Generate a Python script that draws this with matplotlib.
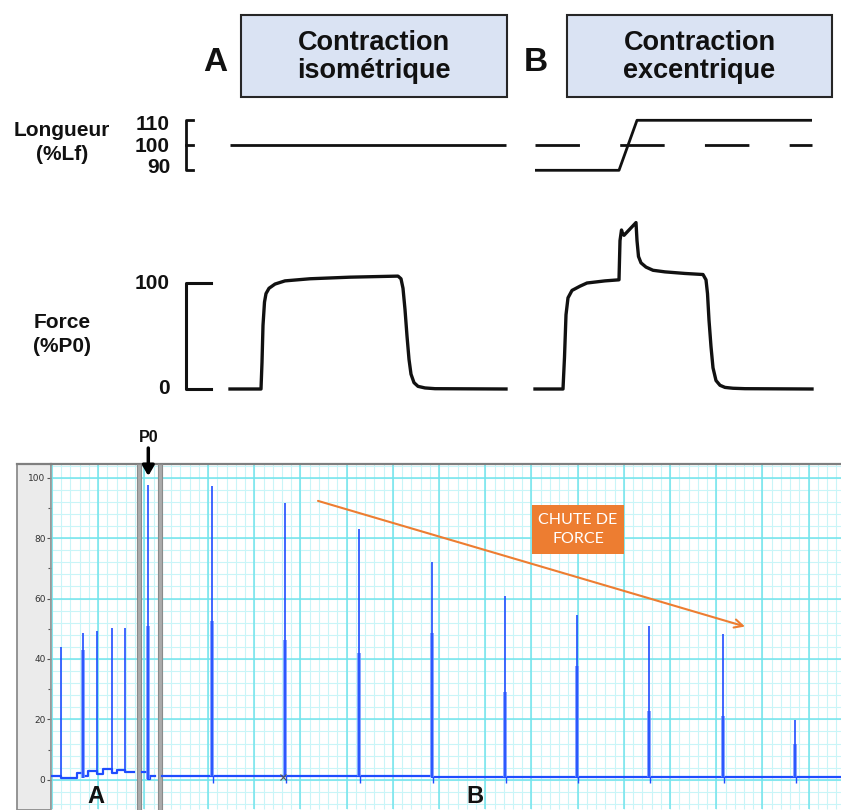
import matplotlib
matplotlib.use('Agg')
import matplotlib.pyplot as plt
from matplotlib.patches import Rectangle
import numpy as np

W, H = 841, 810

def fx(px):
    return px / W

def fy(py):
    return 1 - py / H

# ---------------- data: schematic (top) ----------------
# Panel A : isometric contraction
len_A_t = [0, 276]
len_A_L = [100, 100]
force_A_t = [0, 31, 32, 33, 34.5, 36, 39, 45, 55, 80, 120, 168, 171, 173, 175,
             177, 179, 181, 184, 188, 195, 205, 276]
force_A_F = [0, 0, 25, 60, 82, 90, 95, 99, 102, 104, 105.5, 106.5, 104, 95, 75,
             50, 28, 14, 6, 2.5, 1, 0.3, 0]
# Panel B : eccentric contraction
len_B_t = [0, 84, 102, 277]
len_B_L = [90, 90, 110, 110]
ref_B_t = [0, 277]
ref_B_L = [100, 100]
force_B_t = [0, 28, 29.5, 31, 33, 37, 45, 52, 70, 84, 85, 86.5, 87.5, 89, 101,
             102, 103.5, 106, 111, 118, 130, 150, 168, 171, 172.5, 174, 176,
             178, 181, 185, 190, 198, 210, 277]
force_B_F = [0, 0, 30, 70, 86, 93, 97, 100, 102, 103, 140, 150, 147, 145, 157,
             140, 125, 119, 115, 112, 110.5, 109, 108, 103, 90, 65, 40, 20, 8,
             3.5, 1.5, 0.7, 0.3, 0]

# ---------------- data: recording (bottom) ----------------
rec_yticks = [0, 20, 40, 60, 80, 100]
rec_ytick_labels = ['0', '20', '40', '60', '80', '100']

A_base_t = [0.22, 2.16, 5.63, 6.93, 8.01, 9.96, 11.26, 13.2, 14.29, 16.02, 17.97]
A_base_y = [1.1, 0.45, 2.4, 1.1, 2.9, 1.8, 3.5, 2.4, 3.2, 2.6]
A_spike_t = [2.27, 6.86, 10.02, 13.2, 16.08]
A_spike_peak = [44, 48.6, 49.2, 50.2, 50.2]
A_spike_sec = [0, 43, 0, 0, 0]

P0_base_t = [19.7, 21.0, 21.4, 22.5]
P0_base_y = [2.5, 0.3, 1.2]
P0_spike_t = [21.06]
P0_spike_peak = [97.6]
P0_spike_sec = [51]

B_start, B_end = 24.0, 171.0
B_spike_t = [34.91, 50.65, 66.67, 82.47, 98.27, 113.85, 129.44, 145.45, 161.04]
B_spike_peak = [97.4, 91.5, 83, 72, 60.7, 54.4, 51, 48.4, 19.8]
B_spike_sec = [52.5, 46.4, 42, 48.7, 29, 37.6, 22.8, 21, 11.8]
B_base_y = [1.3, 1.2, 1.2, 1.1, 1.0, 0.9, 0.8, 0.8, 0.8, 0.8]

# ---------------- figure ----------------
fig = plt.figure(figsize=(W / 100, H / 100), dpi=100)
fig.patch.set_facecolor('white')

BOLD = dict(family='Liberation Sans', weight='bold', color='#111111')
INK = '#111111'

# header boxes
for (x0, x1, letter, lx, l1, l2) in [
        (241, 507, 'A', 215, 'Contraction', 'isométrique'),
        (567, 832, 'B', 536, 'Contraction', 'excentrique')]:
    fig.patches.append(Rectangle((fx(x0), fy(97)), fx(x1) - fx(x0), fy(15) - fy(97),
                                 transform=fig.transFigure, facecolor='#dae3f3',
                                 edgecolor='#262626', linewidth=1.5, zorder=-1))
    cx = (x0 + x1) / 2
    fig.text(fx(cx), fy(50), l1, ha='center', va='baseline', fontsize=19.5, **BOLD)
    fig.text(fx(cx), fy(78), l2, ha='center', va='baseline', fontsize=19.5, **BOLD)
    fig.text(fx(lx), fy(71), letter, ha='center', va='baseline', fontsize=24, **BOLD)

# row labels
fig.text(fx(62), fy(136.5), 'Longueur', ha='center', va='baseline', fontsize=15, **BOLD)
fig.text(fx(62), fy(160), '(%Lf)', ha='center', va='baseline', fontsize=15, **BOLD)
fig.text(fx(62), fy(328), 'Force', ha='center', va='baseline', fontsize=15, **BOLD)
fig.text(fx(62), fy(352), '(%P0)', ha='center', va='baseline', fontsize=15, **BOLD)
fig.text(fx(170), fy(130.5), '110', ha='right', va='baseline', fontsize=15, **BOLD)
fig.text(fx(170), fy(152), '100', ha='right', va='baseline', fontsize=15, **BOLD)
fig.text(fx(170), fy(173), '90', ha='right', va='baseline', fontsize=15, **BOLD)
fig.text(fx(170), fy(289), '100', ha='right', va='baseline', fontsize=15, **BOLD)
fig.text(fx(170), fy(394), '0', ha='right', va='baseline', fontsize=15, **BOLD)

# schematic axes: length scale 2.5 px / %, force scale 1.06 px / %
def len_axes(px_left, px_right):
    L_top, L_bot = 120, 80
    y_top = 145.3 - 2.5 * (L_top - 100)
    y_bot = 145.3 - 2.5 * (L_bot - 100)
    ax = fig.add_axes([fx(px_left), fy(y_bot), fx(px_right) - fx(px_left), fy(y_top) - fy(y_bot)])
    ax.set_ylim(L_bot, L_top)
    ax.axis('off')
    return ax

def force_axes(px_left, px_right):
    F_top, F_bot = 170, -10
    y_top = 389 - 1.06 * F_top
    y_bot = 389 - 1.06 * F_bot
    ax = fig.add_axes([fx(px_left), fy(y_bot), fx(px_right) - fx(px_left), fy(y_top) - fy(y_bot)])
    ax.set_ylim(F_bot, F_top)
    ax.axis('off')
    return ax

axLA = len_axes(180, 510)
axLA.set_xlim(-50, 280)
axFA = force_axes(180, 510)
axFA.set_xlim(-50, 280)
axLB = len_axes(520, 841)
axLB.set_xlim(-15, 306)
axFB = force_axes(520, 841)
axFB.set_xlim(-15, 306)

axLA.plot(len_A_t, len_A_L, color=INK, lw=2.0, solid_capstyle='butt')
axFA.plot(force_A_t, force_A_F, color=INK, lw=2.4, solid_joinstyle='round')
axLB.plot(len_B_t, len_B_L, color=INK, lw=2.0, solid_capstyle='butt')
axLB.plot(ref_B_t, ref_B_L, color=INK, lw=2.0, linestyle=(0, (16, 14.5)),
          dash_capstyle='butt')
axFB.plot(force_B_t, force_B_F, color=INK, lw=2.4, solid_joinstyle='round')

# scale brackets
axLA.plot([-37, -44, -44, -37], [110, 110, 90, 90], color=INK, lw=2.0, clip_on=False)
axLA.plot([-44, -37], [100, 100], color=INK, lw=2.0, clip_on=False)
axFA.plot([-19, -44, -44, -19], [100, 100, 0, 0], color=INK, lw=2.2, clip_on=False)

# ---------------- recording panel ----------------
y0_px, px_per_unit = 780.7, 3.03
ylo = (y0_px - 810) / px_per_unit
yhi = (y0_px - 464) / px_per_unit
x_px0, px_per_x = 51, 4.62
xlo, xhi = 0, (841 - x_px0) / px_per_x

# grey side panel (behind the axes so tick labels stay visible)
fig.patches.append(Rectangle((fx(17), 0), fx(51) - fx(17), fy(464), transform=fig.transFigure,
                             facecolor='#ebebeb', edgecolor='#8c8c8c', linewidth=1.3,
                             zorder=-1))

ax = fig.add_axes([fx(51), 0, 1 - fx(51), fy(464)])
ax.set_xlim(xlo, xhi)
ax.set_ylim(ylo, yhi)
ax.set_facecolor('white')

MAJ, MIN = '#72e4ec', '#c9f5f8'
# horizontal grid
ax.hlines(np.arange(-8, 105, 4), xlo, xhi, colors=MIN, lw=0.8, zorder=0)
ax.hlines(np.arange(0, 101, 20), xlo, xhi, colors=MAJ, lw=1.1, zorder=0.5)
# vertical grid (segment A / segment B)
vA = np.arange(0.2, 23.2, 2.0)
vB = np.arange(24.0, xhi, 2.0)
ax.vlines(vA, ylo, yhi, colors=MIN, lw=0.8, zorder=0)
ax.vlines(vB, ylo, yhi, colors=MIN, lw=0.8, zorder=0)
ax.vlines([v for v in vA if abs(((v - 0.2) / 10) - round((v - 0.2) / 10)) < 1e-6], ylo, yhi,
          colors=MAJ, lw=1.1, zorder=0.5)
ax.vlines([v for v in vB if abs(((v - 4.0) / 10) - round((v - 4.0) / 10)) < 1e-6], ylo, yhi,
          colors=MAJ, lw=1.1, zorder=0.5)

# break bars
for a, b in [(18.61, 19.48), (23.16, 24.03)]:
    ax.axvspan(a, b, facecolor='#ababab', edgecolor='#8a8a8a', lw=0.8, zorder=3)

BLUE, LBLUE = '#1f4dff', '#6f8fff'

def draw_segment(base_t, base_y, sp_t, sp_peak, sp_sec):
    ax.step(base_t, list(base_y) + [base_y[-1]], where='post', color=BLUE, lw=1.6, zorder=4)
    for t, p, s in zip(sp_t, sp_peak, sp_sec):
        k = np.searchsorted(base_t, t, side='right') - 1
        k = min(max(k, 0), len(base_y) - 1)
        b = min(base_y[k], base_y[max(k - 1, 0)])
        if s > 0:
            ax.vlines(t, b, s, colors=LBLUE, lw=2.6, zorder=4)
        ax.vlines(t, b, p, colors=BLUE, lw=1.2, zorder=5)

draw_segment(A_base_t, A_base_y, A_spike_t, A_spike_peak, A_spike_sec)
draw_segment(P0_base_t, P0_base_y, P0_spike_t, P0_spike_peak, P0_spike_sec)
B_base_t = [B_start] + B_spike_t + [B_end]
draw_segment(B_base_t, B_base_y, B_spike_t, B_spike_peak, B_spike_sec)
for t, b in zip(B_spike_t, B_base_y[1:]):
    ax.vlines(t + 0.15, -1.0, b, colors=BLUE, lw=1.0, zorder=4)

ax.plot([50.2], [0.8], marker='x', color='#555555', ms=5, mew=0.8, zorder=6)

# ticks & spines
ax.set_xticks([])
ax.set_yticks(rec_yticks)
ax.set_yticklabels(rec_ytick_labels)
ax.set_yticks(np.arange(-10, 105, 10), minor=True)
ax.tick_params(axis='y', which='major', length=3, width=0.8, color='#555555',
               labelcolor='#333333', labelsize=6.5, pad=1)
ax.tick_params(axis='y', which='minor', length=2, width=0.8, color='#555555')
for s in ['right', 'bottom']:
    ax.spines[s].set_visible(False)
ax.spines['left'].set_color('#9a9a9a')
ax.spines['left'].set_linewidth(1.2)
ax.spines['top'].set_color('#7f7f7f')
ax.spines['top'].set_linewidth(1.6)
fig.add_artist(plt.Line2D([fx(17), fx(51)], [fy(464), fy(464)], transform=fig.transFigure,
                          color='#7f7f7f', lw=1.6))

# P0 marker
xp0 = P0_spike_t[0]
ax.annotate('', xy=(xp0, (y0_px - 476) / px_per_unit), xytext=(xp0, (y0_px - 448) / px_per_unit),
            arrowprops=dict(arrowstyle='-|>,head_width=0.35,head_length=0.6', color='black',
                            lw=2.5, shrinkA=0, shrinkB=0), annotation_clip=False, zorder=8)
ax.text(xp0, (y0_px - 437) / px_per_unit, 'P0', ha='center', va='center', fontsize=11.5,
        family='Liberation Sans', weight='bold', color='#111111', clip_on=False)

# segment labels
ax.text((96 - x_px0) / px_per_x, (y0_px - 797) / px_per_unit, 'A', ha='center', va='center',
        fontsize=17, family='Liberation Sans', weight='bold', color='#111111', zorder=8)
ax.text((475 - x_px0) / px_per_x, (y0_px - 797) / px_per_unit, 'B', ha='center', va='center',
        fontsize=17, family='Liberation Sans', weight='bold', color='#111111', zorder=8)

# force-drop annotation
ax.annotate('', xy=((745 - x_px0) / px_per_x, (y0_px - 627) / px_per_unit),
            xytext=((318 - x_px0) / px_per_x, (y0_px - 501) / px_per_unit),
            arrowprops=dict(arrowstyle='->,head_length=0.6,head_width=0.3', color='#ed7d31',
                            lw=1.5, shrinkA=0, shrinkB=0), zorder=7)
bx0, bx1 = (532 - x_px0) / px_per_x, (624 - x_px0) / px_per_x
by0, by1 = (y0_px - 554) / px_per_unit, (y0_px - 505) / px_per_unit
ax.add_patch(Rectangle((bx0, by0), bx1 - bx0, by1 - by0, facecolor='#ed7d31',
                       edgecolor='none', zorder=7))
ax.text((bx0 + bx1) / 2, (by0 + by1) / 2, 'CHUTE DE\nFORCE', ha='center', va='center',
        fontsize=11.5, family='Lato', color='white', linespacing=1.45, zorder=8)

fig.savefig('out.png', dpi=100)
